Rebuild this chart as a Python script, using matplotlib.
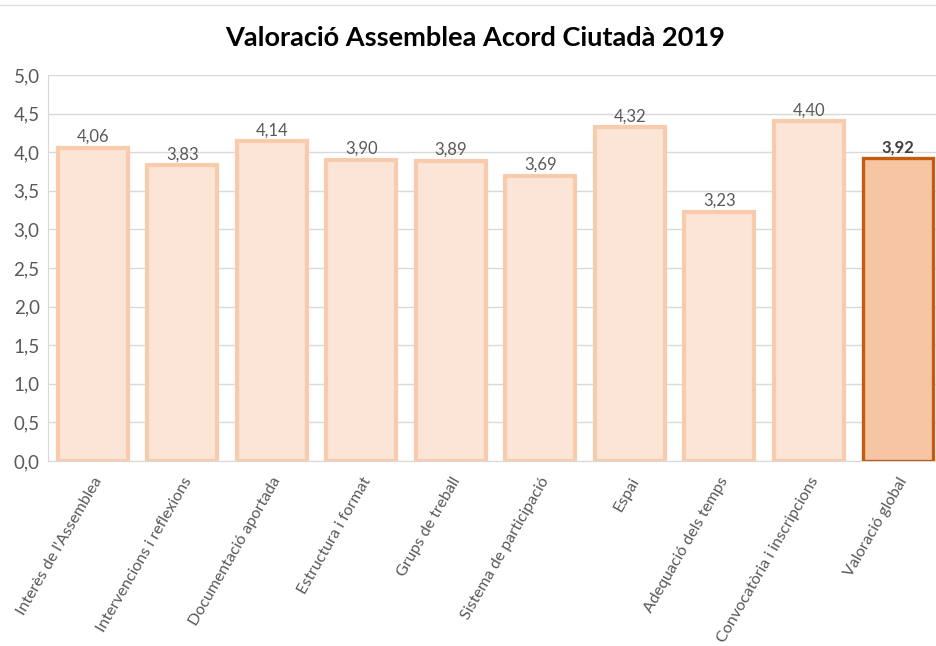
import numpy as np
import matplotlib.pyplot as plt

plt.rcParams['font.family'] = ['Lato', 'DejaVu Sans']

categories = ["Interès de l'Assemblea", "Intervencions i reflexions", "Documentació aportada",
              "Estructura i format", "Grups de treball", "Sistema de participació",
              "Espai", "Adequació dels temps", "Convocatòria i inscripcions", "Valoració global"]
values = [4.06, 3.83, 4.14, 3.90, 3.89, 3.69, 4.32, 3.23, 4.40, 3.92]
y_ticks = [0.0, 0.5, 1.0, 1.5, 2.0, 2.5, 3.0, 3.5, 4.0, 4.5, 5.0]

fig = plt.figure(figsize=(9.36, 6.46), dpi=100)
ax = fig.add_axes([48 / 936, 1 - 461 / 646, 895 / 936, 386 / 646])

x = np.arange(len(categories))
face = ['#FBE5D6'] * (len(values) - 1) + ['#F6C6A4']
edge = ['#F8CBAD'] * (len(values) - 1) + ['#C55A11']
lw = [3.0] * (len(values) - 1) + [2.4]
ax.bar(x, values, width=0.78, color=face, edgecolor=edge, linewidth=lw, zorder=3)

for i, v in enumerate(values):
    last = i == len(values) - 1
    ax.text(i, v + 0.04, f"{v:.2f}".replace('.', ','), ha='center', va='bottom',
            fontsize=12, color='#404040' if last else '#595959',
            fontweight='bold' if last else 'normal', zorder=4)

ax.set_xlim(-0.5, len(categories) - 0.5)
ax.set_ylim(0, 5)
ax.set_yticks(y_ticks)
ax.set_yticklabels([f"{t:.1f}".replace('.', ',') for t in y_ticks], fontsize=13.5, color='#595959')
ax.set_xticks(x)
ax.set_xticklabels(categories, rotation=60, ha='right', rotation_mode='anchor',
                   fontsize=11.5, color='#595959')
ax.tick_params(length=0, pad=6)
ax.tick_params(axis='x', pad=10)

ax.grid(axis='y', color='#D9D9D9', linewidth=1.0, zorder=0)
for s in ['top', 'right']:
    ax.spines[s].set_visible(False)
ax.spines['left'].set_color('#D9D9D9')
ax.spines['bottom'].set_color('#D9D9D9')

fig.text(475 / 936, 1 - 38 / 646, 'Valoració Assemblea Acord Ciutadà 2019',
         ha='center', va='center', fontsize=19.5, fontweight='bold', color='#000000')
fig.add_artist(plt.Line2D([0, 1], [1 - 5 / 646, 1 - 5 / 646], color='#E0E0E0', linewidth=1))

fig.savefig('out.png', dpi=100)
